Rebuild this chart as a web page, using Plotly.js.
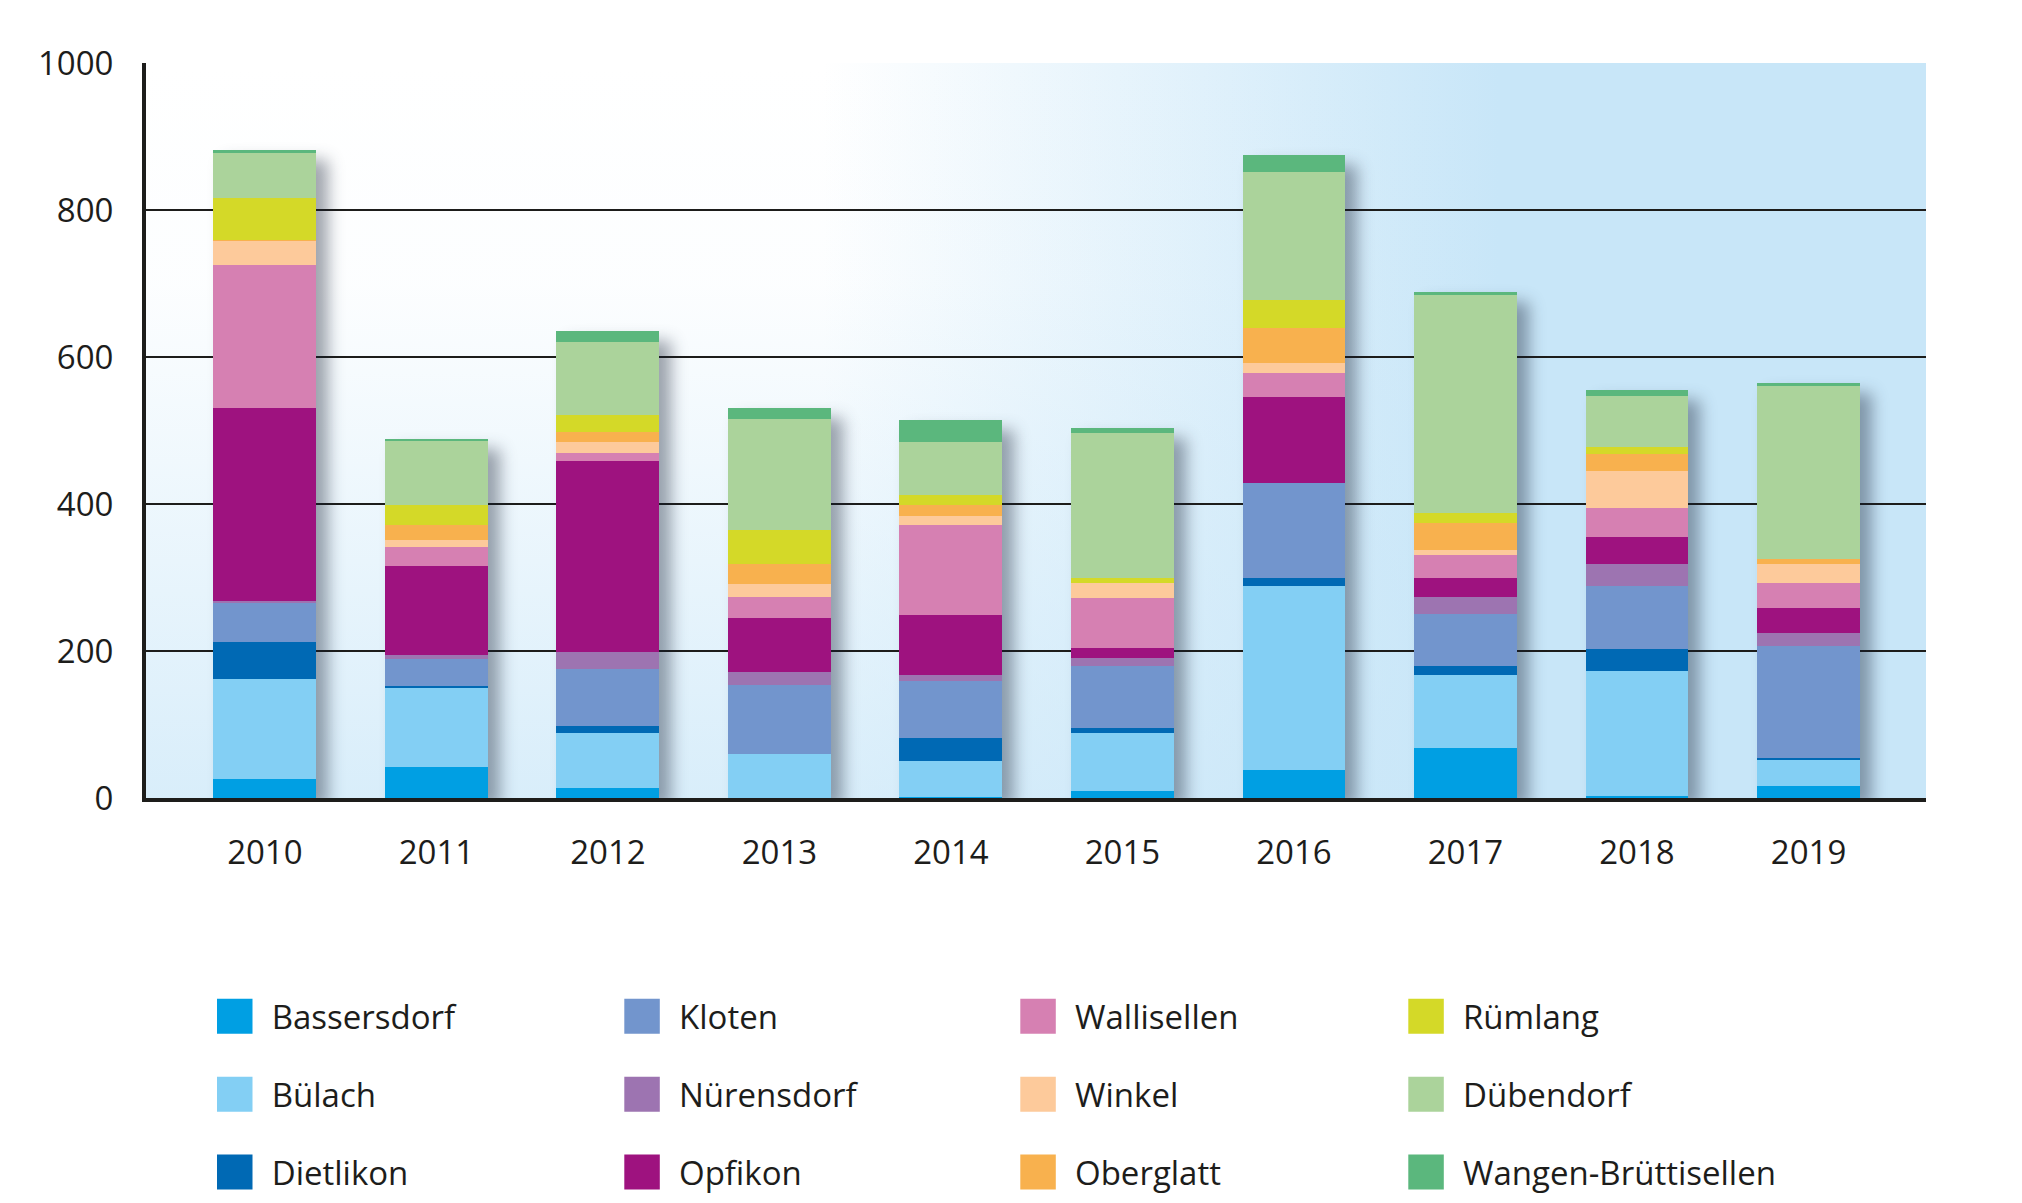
<!DOCTYPE html>
<html>
<head>
<meta charset="utf-8">
<script src="https://cdn.plot.ly/plotly-3.0.1.min.js"></script>
<style>
  html, body { margin: 0; padding: 0; background: #ffffff; }
  #chart { width: 2022px; height: 1203px; }
  .barlayer { filter: drop-shadow(12px 10px 8px rgba(20, 30, 50, 0.40)); }
</style>
</head>
<body>
<div id="chart"></div>
<script>
const years = ["2010","2011","2012","2013","2014","2015","2016","2017","2018","2019"];
const seriesNames = ["Bassersdorf","Bülach","Dietlikon","Kloten","Nürensdorf","Opfikon","Wallisellen","Winkel","Oberglatt","Rümlang","Dübendorf","Wangen-Brüttisellen"];
const bassersdorf = [26, 42, 13, 0, 2, 10, 38, 68, 3, 17];
const buelach     = [136, 108, 76, 60, 48, 78, 251, 100, 170, 36];
const dietlikon   = [50, 2, 9, 0, 32, 7, 11, 11, 30, 1];
const kloten      = [54, 37, 77, 94, 77, 84, 129, 72, 85, 153];
const nuerensdorf = [2, 5, 23, 18, 8, 11, 0, 22, 31, 18];
const opfikon     = [263, 122, 260, 73, 82, 14, 117, 26, 36, 34];
const wallisellen = [194, 25, 12, 29, 123, 68, 32, 31, 40, 34];
const winkel      = [33, 10, 14, 17, 12, 20, 14, 7, 50, 25];
const oberglatt   = [1, 20, 14, 27, 15, 0, 48, 37, 23, 7];
const ruemlang    = [58, 27, 23, 47, 13, 8, 37, 14, 10, 0];
const duebendorf  = [61, 88, 100, 150, 73, 197, 175, 297, 69, 236];
const wangen      = [3, 3, 14, 16, 29, 6, 23, 3, 8, 3];
const yTicks = [0, 200, 400, 600, 800, 1000];

const seriesValues = [bassersdorf, buelach, dietlikon, kloten, nuerensdorf, opfikon, wallisellen, winkel, oberglatt, ruemlang, duebendorf, wangen];
const colors = ["#009fe3","#83cff4","#0069b4","#7295cd","#9d74b1","#9e127f","#d680b2","#fdca9b","#f8b14e","#d4d928","#abd39b","#5bb77d"];
const legendIds = ["legend","legend","legend","legend2","legend2","legend2","legend3","legend3","legend3","legend4","legend4","legend4"];

const traces = seriesNames.map((name, i) => ({
  type: "bar",
  name: name,
  x: years,
  y: seriesValues[i],
  marker: { color: colors[i], line: { width: 0 } },
  legend: legendIds[i],
  legendgroup: "g" + i,
  hoverinfo: "skip"
}));

const bgSvg = "<svg xmlns='http://www.w3.org/2000/svg' width='1000' height='400' viewBox='0 0 1000 400' preserveAspectRatio='none'>" +
  "<defs>" +
  "<linearGradient id='h' x1='0' y1='0' x2='1' y2='0'>" +
  "<stop offset='0' stop-color='#ffffff'/><stop offset='0.38' stop-color='#ffffff'/>" +
  "<stop offset='0.76' stop-color='#c8e6f8'/><stop offset='1' stop-color='#c8e6f8'/></linearGradient>" +
  "<linearGradient id='v' x1='0' y1='0' x2='0' y2='1'>" +
  "<stop offset='0' stop-color='#c8e6f8' stop-opacity='0'/><stop offset='0.3' stop-color='#c8e6f8' stop-opacity='0.05'/>" +
  "<stop offset='1' stop-color='#c8e6f8' stop-opacity='0.7'/></linearGradient>" +
  "</defs>" +
  "<rect x='0' y='0' width='1000' height='400' fill='url(#h)'/>" +
  "<rect x='0' y='0' width='1000' height='400' fill='url(#v)'/>" +
  "</svg>";
const bgSource = "data:image/svg+xml;charset=utf-8," + encodeURIComponent(bgSvg);

const fontFamily = "'Open Sans', 'Noto Sans', sans-serif";
const textColor = "#1d1d1b";
const plotLeft = 146, plotWidth = 1780, plotTop = 63, plotHeight = 735;

function legendAt(textLeftPx) {
  return {
    x: (textLeftPx - 40 - plotLeft) / plotWidth, y: -0.259, xanchor: "left", yanchor: "top",
    orientation: "v",
    traceorder: "grouped",
    tracegroupgap: 32,
    font: { family: fontFamily, size: 33, color: textColor },
    bgcolor: "rgba(0,0,0,0)",
    borderwidth: 0,
    itemclick: false, itemdoubleclick: false
  };
}

const layout = {
  width: 2022, height: 1203,
  margin: { l: plotLeft, r: 2022 - plotLeft - plotWidth, t: plotTop, b: 1203 - plotTop - plotHeight, autoexpand: false },
  paper_bgcolor: "#ffffff",
  plot_bgcolor: "rgba(0,0,0,0)",
  barmode: "stack",
  bargap: 0.4,
  showlegend: true,
  font: { family: fontFamily, size: 33, color: textColor },
  images: [{
    source: bgSource, xref: "paper", yref: "paper",
    x: 0, y: 1, sizex: 1, sizey: 1, sizing: "stretch",
    xanchor: "left", yanchor: "top", layer: "below"
  }],
  xaxis: {
    type: "category",
    range: [-0.693, 9.685],
    showgrid: false,
    zeroline: false,
    showline: true, linecolor: "#1d1d1b", linewidth: 4,
    ticks: "outside", ticklen: 22, tickcolor: "rgba(0,0,0,0)",
    tickfont: { family: fontFamily, size: 33, color: textColor },
    fixedrange: true
  },
  yaxis: {
    range: [0, 1000],
    tickvals: yTicks,
    ticktext: yTicks.map(String),
    showgrid: true, gridcolor: "#1d1d1b", gridwidth: 2,
    zeroline: false,
    showline: true, linecolor: "#1d1d1b", linewidth: 4,
    ticks: "outside", ticklen: 22, tickcolor: "rgba(0,0,0,0)",
    tickfont: { family: fontFamily, size: 33, color: textColor },
    fixedrange: true
  },
  legend: legendAt(271.7),
  legend2: legendAt(679),
  legend3: legendAt(1075),
  legend4: legendAt(1463)
};

Plotly.newPlot("chart", traces, layout, { displayModeBar: false }).then(() => {
  // let the legend swatches extend left of the item box, as in the reference
  document.querySelectorAll(".infolayer [class^='legend'][clip-path], .infolayer [class^='legend'] [clip-path]").forEach(e => {
    e.removeAttribute("clip-path");
  });
  // enlarge the legend swatches to the reference's square boxes
  document.querySelectorAll("g.legendpoints path").forEach(p => {
    const d = p.getAttribute("d") || "";
    if (/^M6,6H-6V-6H6Z/.test(d)) {
      p.setAttribute("d", "M0.8,17.5H-34.7V-17.5H0.8Z");
    }
  });
});
</script>
</body>
</html>
